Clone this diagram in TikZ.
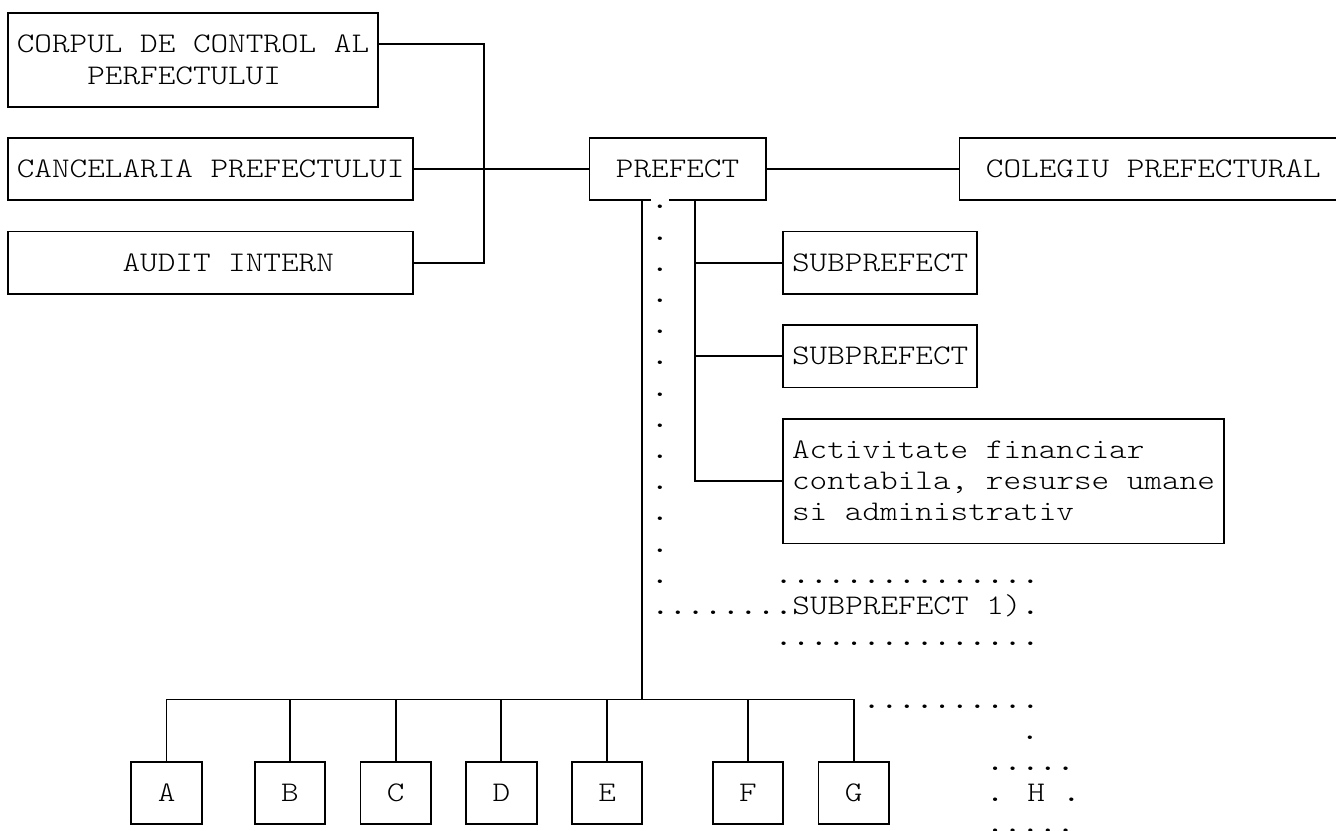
\documentclass[tikz,border=0pt]{standalone}
\usepackage{fontspec}
\newfontfamily\orgfont[FakeStretch=1.1818]{lmmonolt10-regular.otf}
\newfontfamily\orgdots[FakeStretch=1.1818]{lmmono10-regular.otf}
\usepackage{tikz}
\newcommand{\orgtext}{\orgfont\fontsize{14.2pt}{15.6pt}\selectfont}
\newlength{\cellw}
\setlength{\cellw}{8.81pt}
\newcommand{\chskip}[1]{\hspace*{#1\cellw}}

\begin{document}
\begin{tikzpicture}[x=8.81pt, y=-15.6pt,
      every node/.style={font=\orgtext},
      orgbox/.style 2 args={draw, line width=0.9pt, inner sep=0pt,
        minimum width=#1*8.81pt, minimum height=#2*15.6pt},
      letterbox/.style={orgbox={4}{2}},
      link/.style={line width=0.9pt},
      dotrow/.style={inner sep=0pt, anchor=base west},
      dot/.style={inner sep=0pt, anchor=base}
      ]
      \clip[use as bounding box] (-0.454,-0.417) rectangle (75.37,26.218);

      \node[orgbox={21}{3}, align=left] (corpul) at (10.5,1.5) {CORPUL DE CONTROL AL\\\chskip{4}PERFECTULUI};
      \node[orgbox={23}{2}] (canc) at (11.5,5) {CANCELARIA PREFECTULUI};
      \node[orgbox={23}{2}] (audit) at (11.5,8) {\chskip{6}AUDIT INTERN\chskip{4}};

      \node[orgbox={10}{2}, draw=none, outer sep=0pt] (prefect) at (38,5) {PREFECT};
      \node[orgbox={22}{2}] (colegiu) at (65,5) {COLEGIU PREFECTURAL};

      \node[orgbox={11}{2}] (sub1) at (49.5,8) {SUBPREFECT};
      \node[orgbox={11}{2}] (sub2) at (49.5,11) {SUBPREFECT};
      \node[orgbox={25}{4}, align=left] (fin) at (56.5,15) {Activitate financiar\\contabila, resurse umane\\si administrativ};

      \foreach \u/\c in {A/9,B/16,C/22,D/28,E/34,F/42,G/48}
        \node[letterbox] (\u) at (\c,25) {\u};

      \draw[link] (36.5,6) -| (prefect.north west) -- (prefect.north east) |- (37.5,6);

      \coordinate (lbus) at (27,5);
      \coordinate (trunk) at ([xshift=-17.62pt]prefect.south);
      \coordinate (sbranch) at ([xshift=8.81pt]prefect.south);
      \coordinate (bar) at (36,22);

      \draw[link] ([yshift=7.8pt]corpul.east) -| (lbus) |- (audit.east);
      \draw[link] (canc.east) -- (prefect.west);
      \draw[link] (prefect.east) -- (colegiu.west);

      \draw[link] (sbranch) |- (fin.west);
      \draw[link] (sub1.west) -- (sub1.west -| sbranch);
      \draw[link] (sub2.west) -- (sub2.west -| sbranch);

      \draw[link] (trunk) -- (bar);
      \draw[link] (A.north) |- (bar) -| (G.north);
      \foreach \u in {B,C,D,E,F}
        \draw[link] (\u.north) -- (\u.north |- bar);

      \foreach \r in {6,...,18}
        \node[dot] (dot\r) at (37,\r+0.28) {\orgdots.};
      \node[dotrow] (sub3top) at (43.5,18.28) {\orgdots...............};
      \node[dotrow] (sub3) at (36.5,19.28) {{\orgdots........}SUBPREFECT 1){\orgdots.}};
      \node[dotrow] (sub3bot) at (43.5,20.28) {\orgdots...............};

      \node[dotrow] (hlink) at (48.5,22.28) {\orgdots..........};
      \node[dot] (hdrop) at (58,23.28) {\orgdots.};
      \node[dotrow] (htop) at (55.5,24.28) {\orgdots.....};
      \node[dotrow] (H) at (55.5,25.28) {{\orgdots.} H {\orgdots.}};
      \node[dotrow] (hbot) at (55.5,26.28) {\orgdots.....};
\end{tikzpicture}
\end{document}
